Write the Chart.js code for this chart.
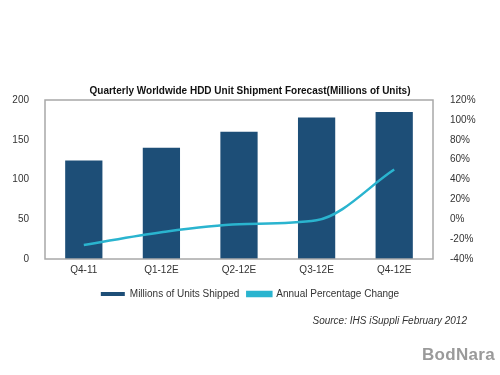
<!DOCTYPE html>
<html>
<head>
<meta charset="utf-8">
<script src="https://cdn.jsdelivr.net/npm/chart.js@4"></script>
<style>
  body { margin: 0; background: #fff; font-family: "Liberation Sans", Arial, sans-serif; }
  #wrap { position: relative; width: 500px; height: 375px; }
  #source { position: absolute; right: 33px; top: 315px; font-size: 10px; font-style: italic; color: #333; }
  #mark { position: absolute; right: 5px; top: 345px; font-size: 17px; font-weight: bold; color: #9a9a9a; letter-spacing: 0.3px; }
</style>
</head>
<body>
<div id="wrap">
  <canvas id="chart" width="500" height="375"></canvas>
  <div id="source">Source: IHS iSuppli February 2012</div>
  <div id="mark">BodNara</div>
</div>
<script>
// Datos del gráfico
var quarters = ['Q4-11', 'Q1-12E', 'Q2-12E', 'Q3-12E', 'Q4-12E'];
var unitsShipped = [124, 140, 160, 178, 185];
var annualChange = [-26, -13, -5, -1, 50];

var barColor = '#1d4e77';
var lineColor = '#2ab4cf';

// Marco gris alrededor del área del gráfico
var frame = {
  id: 'frame',
  afterDraw: function (c) {
    var a = c.chartArea, ctx = c.ctx;
    ctx.save();
    ctx.strokeStyle = '#a8a8a8';
    ctx.lineWidth = 1.5;
    ctx.strokeRect(a.left, a.top, a.right - a.left, a.bottom - a.top);
    ctx.restore();
  }
};

var ctx = document.getElementById('chart').getContext('2d');
var chart = new Chart(ctx, {
  type: 'bar',
  data: {
    labels: quarters,
    datasets: [{
      type: 'line',
      label: 'Annual Percentage Change',
      data: annualChange,
      yAxisID: 'y2',
      borderColor: lineColor,
      backgroundColor: lineColor,
      borderWidth: 2.5,
      pointRadius: 0,
      cubicInterpolationMode: 'monotone',
      order: 0
    }, {
      label: 'Millions of Units Shipped',
      data: unitsShipped,
      yAxisID: 'y',
      backgroundColor: barColor,
      barPercentage: 0.48,
      categoryPercentage: 1,
      order: 1
    }]
  },
  options: {
    responsive: false,
    animation: false,
    layout: { padding: { top: 4, bottom: 66, left: 0, right: 0 } },
    plugins: {
      title: {
        display: true,
        text: 'Quarterly Worldwide HDD Unit Shipment Forecast(Millions of Units)',
        color: '#111',
        font: { family: 'Liberation Sans', size: 10, weight: 'bold' },
        padding: { top: 81, bottom: 3 }
      },
      legend: {
        position: 'bottom',
        reverse: true,
        labels: {
          boxWidth: 24,
          boxHeight: 4,
          color: '#333',
          padding: 8,
          font: { family: 'Liberation Sans', size: 10 }
        }
      },
      tooltip: { enabled: false }
    },
    scales: {
      x: {
        grid: { display: false, drawTicks: false },
        border: { display: false },
        ticks: { color: '#333', font: { family: 'Liberation Sans', size: 10 }, padding: 5 }
      },
      y: {
        position: 'left',
        min: 0,
        max: 200,
        grid: { display: false },
        border: { display: false },
        ticks: { stepSize: 50, color: '#333', padding: 8, font: { family: 'Liberation Sans', size: 10 } },
        afterFit: function (s) { s.width = 45; }
      },
      y2: {
        position: 'right',
        min: -40,
        max: 120,
        grid: { display: false },
        border: { display: false },
        ticks: {
          stepSize: 20,
          color: '#333',
          padding: 9,
          font: { family: 'Liberation Sans', size: 10 },
          callback: function (v) { return v + '%'; }
        },
        afterFit: function (s) { s.width = 67; }
      }
    }
  },
  plugins: [frame]
});
</script>
</body>
</html>
